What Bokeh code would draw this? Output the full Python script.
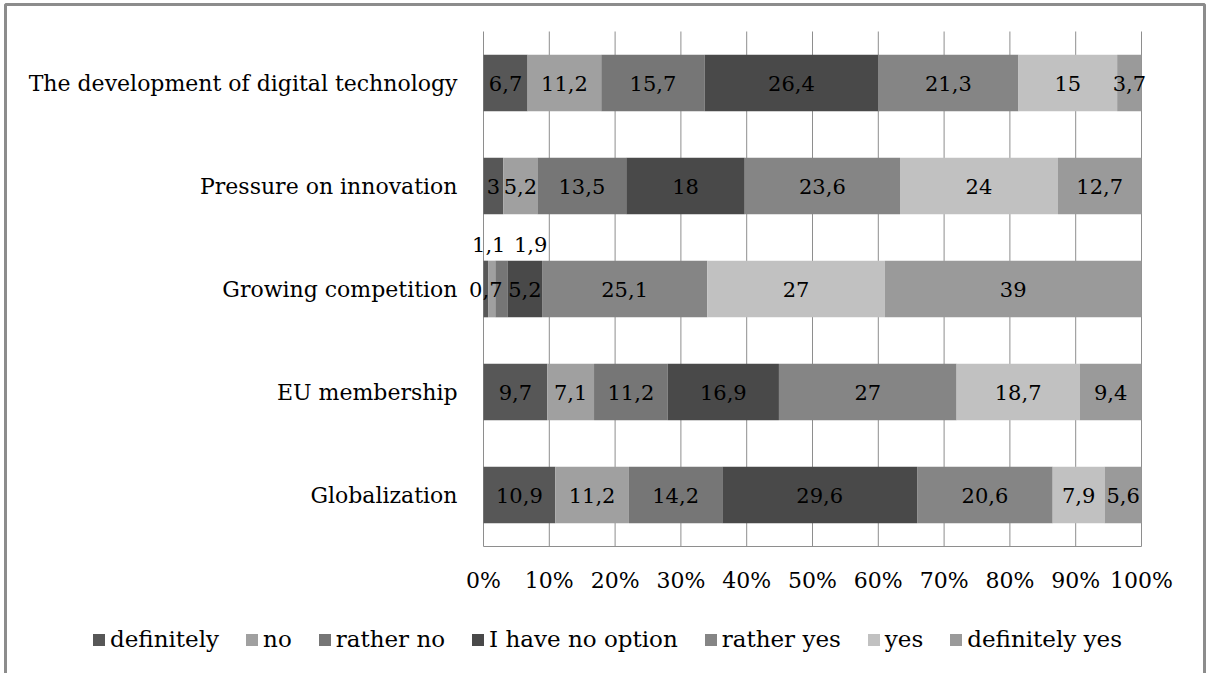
from bokeh.plotting import figure
from bokeh.models import (ColumnDataSource, Range1d, Legend, LegendItem, BoxAnnotation)
from bokeh.core.properties import value
from bokeh.embed import file_html
from bokeh.resources import INLINE

categories = ["The development of digital technology", "Pressure on innovation",
              "Growing competition", "EU membership", "Globalization"]
series_names = ["definitely", "no", "rather no", "I have no option",
                "rather yes", "yes", "definitely yes"]
definitely = [6.7, 3, 0.7, 9.7, 10.9]
no = [11.2, 5.2, 1.1, 7.1, 11.2]
rather_no = [15.7, 13.5, 1.9, 11.2, 14.2]
no_option = [26.4, 18, 5.2, 16.9, 29.6]
rather_yes = [21.3, 23.6, 25.1, 27, 20.6]
yes = [15, 24, 27, 18.7, 7.9]
definitely_yes = [3.7, 12.7, 39, 9.4, 5.6]
tick_values = [0, 10, 20, 30, 40, 50, 60, 70, 80, 90, 100]
tick_labels = ["0%", "10%", "20%", "30%", "40%", "50%", "60%", "70%", "80%", "90%", "100%"]

colors = ["#575757", "#a0a0a0", "#767676", "#494949", "#858585", "#c1c1c1", "#9a9a9a"]
FONT = "DejaVu Serif"
GRID = "#8e8e8e"

# layout (pixels) of the plotting area inside the 1206x673 canvas
W, H = 1206, 673
PX_LEFT, PX_RIGHT, PX_TOP, PX_BOTTOM = 483, 1141, 31, 546
n = len(categories)
x_unit = (PX_RIGHT - PX_LEFT) / 100.0
y_unit = (PX_BOTTOM - PX_TOP) / float(n)
x_start = -PX_LEFT / x_unit
x_end = 100 + (W - PX_RIGHT) / x_unit
y_start = -(H - PX_BOTTOM) / y_unit
y_end = n + PX_TOP / y_unit

series = [definitely, no, rather_no, no_option, rather_yes, yes, definitely_yes]
keys = ["s%d" % i for i in range(len(series))]
cat_y = [n - 0.5 - i for i in range(n)]

data = {"cat": categories, "y": cat_y}
for k, s in zip(keys, series):
    data[k] = s
source = ColumnDataSource(data)

# label offsets (pixels) for labels moved out of tiny segments
label_moves = {("Growing competition", 1): (-3, -45), ("Growing competition", 2): (29, -45)}

lx, ly, lt, lxo, lyo = [], [], [], [], []
for ci, cat in enumerate(categories):
    left = 0.0
    for si, s in enumerate(series):
        v = s[ci]
        lx.append(left + v / 2.0)
        ly.append(cat_y[ci])
        lt.append(("%g" % v).replace(".", ","))
        dx, dy = label_moves.get((cat, si), (0, 0))
        lxo.append(dx)
        lyo.append(dy)
        left += v
label_src = ColumnDataSource(dict(x=lx, y=ly, text=lt, xo=lxo, yo=lyo))

p = figure(width=W, height=H, output_backend="svg", toolbar_location=None,
           x_range=Range1d(x_start, x_end), y_range=Range1d(y_start, y_end),
           x_axis_location=None, y_axis_location=None,
           min_border_left=0, min_border_right=0, min_border_top=0, min_border_bottom=0)
p.outline_line_color = None
p.grid.grid_line_color = None
p.background_fill_color = "white"
p.border_fill_color = "white"

# vertical gridlines and bottom axis line
p.segment(x0=tick_values, x1=tick_values, y0=[0] * len(tick_values), y1=[n] * len(tick_values),
          line_color=GRID, line_width=1)
p.segment(x0=[tick_values[0]], x1=[tick_values[-1]], y0=[0], y1=[0], line_color=GRID, line_width=1)

renderers = p.hbar_stack(keys, y="y", height=0.55, color=colors, line_color=None, source=source)

p.text(x="x", y="y", text="text", x_offset="xo", y_offset="yo", source=label_src,
       text_align="center", text_baseline="middle", text_font=value(FONT),
       text_font_size="21px", text_color="black")

# category labels
p.text(x=[0] * n, y=cat_y, text=categories, x_offset=-26, text_align="right",
       text_baseline="middle", text_font=value(FONT), text_font_size="22px", text_color="black")

# tick labels
p.text(x=tick_values, y=[0] * len(tick_values), text=tick_labels, y_offset=34,
       text_align="center", text_baseline="middle", text_font=value(FONT),
       text_font_size="22px", text_color="black")

items = [LegendItem(label=nm, renderers=[r]) for nm, r in zip(series_names, renderers)]
legend = Legend(items=items, orientation="horizontal", location=(91, 21),
                glyph_width=15, glyph_height=15, label_standoff=4, spacing=25,
                padding=0, margin=0, border_line_color=None, background_fill_alpha=0,
                label_text_font=FONT, label_text_font_size="23px", label_text_color="black")
p.add_layout(legend, "center")

frame_box = BoxAnnotation(left=5, right=1204, top=4, bottom=720,
                          left_units="canvas", right_units="canvas",
                          top_units="canvas", bottom_units="canvas",
                          fill_alpha=0, line_color="#8c8c8c", line_alpha=1.0, line_width=3)
p.add_layout(frame_box)

open("out.html", "w").write(file_html(p, INLINE))
